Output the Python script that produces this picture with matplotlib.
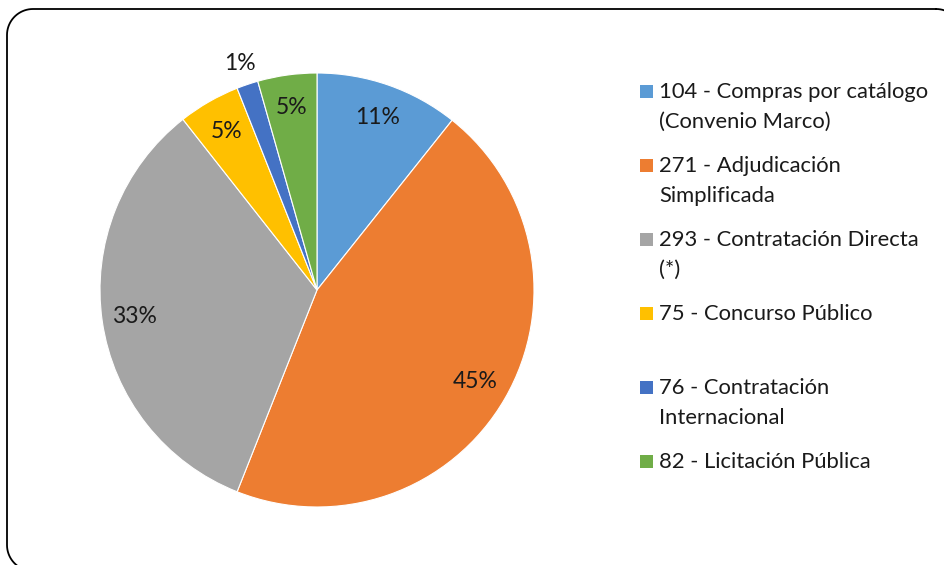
import numpy as np
import matplotlib.pyplot as plt
from matplotlib.patches import Rectangle

plt.rcParams['font.family'] = ['Lato', 'DejaVu Sans']

# share of each procedure type (%)
labels = ["104 - Compras por catálogo\n(Convenio Marco)",
          "271 - Adjudicación\nSimplificada",
          "293 - Contratación Directa\n(*)",
          "75 - Concurso Público",
          "76 - Contratación\nInternacional",
          "82 - Licitación Pública"]
values = [10.7, 45.3, 33.4, 4.6, 1.6, 4.4]
pct_text = ["11%", "45%", "33%", "5%", "1%", "5%"]
colors = ["#5B9BD5", "#ED7D31", "#A5A5A5", "#FFC000", "#4472C4", "#70AD47"]

W, H = 944, 565
fig = plt.figure(figsize=(W / 100, H / 100), dpi=100)

# background axes in pixel units (y measured downward) for border and legend
bg = fig.add_axes([0, 0, 1, 1])
bg.set_xlim(0, W)
bg.set_ylim(H, 0)
bg.axis("off")

# rounded border, partly running off the canvas
x0, x1, y0, y1, rr = 7, 962, 9, 571, 26
bx, by = [], []
for (ccx, ccy, a0) in [(x1 - rr, y0 + rr, -90), (x1 - rr, y1 - rr, 0),
                       (x0 + rr, y1 - rr, 90), (x0 + rr, y0 + rr, 180)]:
    t = np.deg2rad(np.linspace(a0, a0 + 90, 20))
    bx.extend(ccx + rr * np.cos(t))
    by.extend(ccy + rr * np.sin(t))
bx.append(bx[0])
by.append(by[0])
bg.plot(bx, by, color="black", linewidth=1.3)

cx, cy, r = 317, 290, 217
ax = fig.add_axes([(cx - r) / W, (H - cy - r) / H, 2 * r / W, 2 * r / H])
wedges, _ = ax.pie(values, colors=colors, startangle=90, counterclock=False,
                   radius=1, wedgeprops=dict(edgecolor="white", linewidth=0.8))
ax.set_xlim(-1, 1)
ax.set_ylim(-1, 1)
ax.set_aspect("equal")
ax.axis("off")

dist = [0.84, 0.84, 0.85, 0.84, 1.1, 0.85]
for w, t, d in zip(wedges, pct_text, dist):
    ang = np.deg2rad((w.theta1 + w.theta2) / 2)
    ax.text(d * np.cos(ang), d * np.sin(ang), t, ha="center", va="center",
            fontsize=16.5, color="#1a1a1a")

# legend drawn by hand to match the spacing
for i, (lab, c) in enumerate(zip(labels, colors)):
    y = 91 + 74 * i
    bg.add_patch(Rectangle((640, y - 6.5), 13, 13, facecolor=c, edgecolor="none"))
    bg.text(659, y - 9, lab, ha="left", va="top",
            fontsize=15.8, color="#1a1a1a", linespacing=1.6)

fig.savefig("out.png", dpi=100)
